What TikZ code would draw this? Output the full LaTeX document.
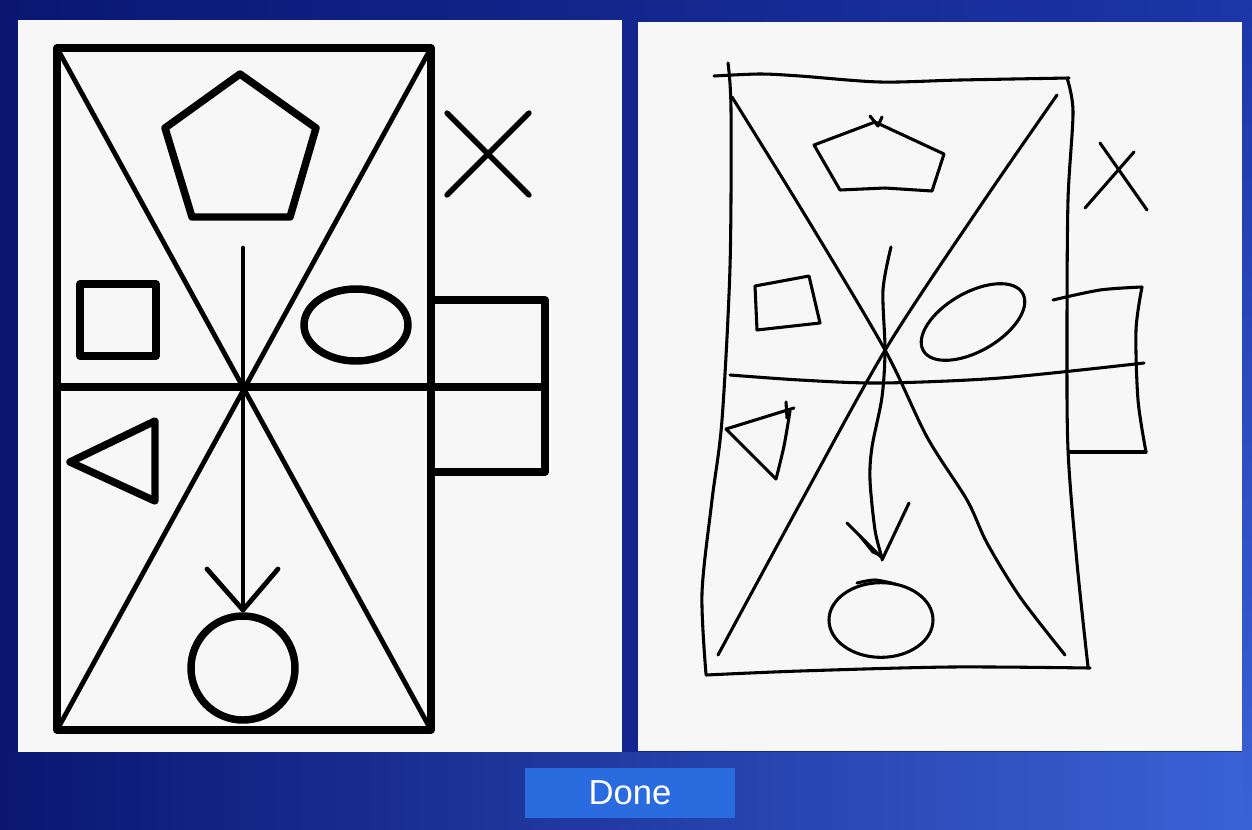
\documentclass[tikz,border=0pt]{standalone}
\usepackage{fontspec}
\setmainfont{Liberation Sans}
\definecolor{navyA}{HTML}{0A1672}
\definecolor{navyB}{HTML}{1C36A8}
\definecolor{navyC}{HTML}{3A62D6}
\definecolor{btnblue}{HTML}{2A6BE0}
\definecolor{paper}{HTML}{F7F7F7}
\begin{document}
\begin{tikzpicture}[x=0.75pt,y=-0.75pt,
  bold/.style={line width=5.6pt, line join=round, line cap=round},
  mid/.style={line width=3.6pt, line cap=round, line join=round},
  pen/.style={line width=2.3pt, line cap=round, line join=round},
  donebtn/.style={fill=btnblue, text=white, minimum width=158pt, minimum height=37pt, inner sep=0pt, font=\fontsize{26}{30}\selectfont}]
\useasboundingbox (0,0) rectangle (1252,829);
% background
\shade[left color=navyA, right color=navyB] (0,0) rectangle (1252,829);
\shade[left color=navyA, right color=navyC] (0,752) rectangle (1252,829);
\shade[top color=navyB, bottom color=navyC] (1242,0) rectangle (1252,829);
% panels
\fill[paper] (18,20) rectangle (622,752);
\fill[paper] (638,22) rectangle (1242,751);
% ===== left: original figure =====
\draw[bold] (57,48) rectangle (431,730);
\draw[mid] (57,48) -- (431,730);
\draw[mid] (431,48) -- (57,730);
\draw[bold] (57,387) -- (545,387);
\draw[bold] (431,300) -- (545,300) -- (545,472) -- (431,472);
\draw[bold] (240,74) -- (316,128) -- (290,217) -- (192,217) -- (165,128) -- cycle;
\draw[bold] (80,284) rectangle (156,356);
\draw[bold] (356,325) ellipse [x radius=39pt, y radius=27pt];
\draw[bold] (70,462) -- (155,421) -- (155,501) -- cycle;
\draw[mid] (243,248) -- (243,610);
\draw[mid] (207,569) -- (243,610) -- (278,569);
\draw[bold] (243,668) circle [radius=39pt];
\draw[line width=4pt, line cap=round] (447,113) -- (529,195) (447,195) -- (529,113);
% ===== right: hand-drawn copy =====
\draw[pen] plot[smooth] coordinates {(714,76) (760,74) (800,76) (880,82) (960,80) (1069,78)};
\draw[pen] plot[smooth] coordinates {(728,63) (731,110) (730,267) (722,420) (712,500) (702,593) (706,674)};
\draw[pen] plot[smooth] coordinates {(706,675) (800,671) (950,667) (1090,668)};
\draw[pen] plot[smooth] coordinates {(1067,78) (1073,112) (1068,200) (1067,330) (1068,450) (1077,563) (1088,667)};
\draw[pen] plot[smooth] coordinates {(732,97) (808,220) (885,350) (927,437) (967,500) (987,543) (1020,597) (1065,655)};
\draw[pen] plot[smooth] coordinates {(1057,95) (981,205) (887,347) (802,500) (718,655)};
\draw[pen] plot[smooth] coordinates {(730,375) (800,380) (881,383) (1000,378) (1144,363)};
\draw[pen] plot[smooth] coordinates {(1053,300) (1100,290) (1142,287)};
\draw[pen] plot[smooth] coordinates {(1142,287) (1136,330) (1138,400) (1146,452)};
\draw[pen] (1146,452) -- (1069,452);
\draw[pen] plot[smooth] coordinates {(891,247) (883,290) (885,350) (882,397) (872,447) (870,480) (875,530) (882,558)};
\draw[pen] plot[smooth] coordinates {(847,523) (866,542) (882,558)};
\draw[pen] (909,503) -- (882,560);
\draw[pen] (860,536) -- (873,552) -- (882,556);
\draw[pen] (875,122) -- (944,154) -- (932,191) -- (885,188) -- (840,190) -- (814,145) -- cycle;
\draw[pen] (870,116) -- (878,126) -- (882,117);
\draw[pen] (755,286) -- (809,276) -- (820,323) -- (757,330) -- cycle;
\draw[pen, rotate around={30:(973,322)}] (973,322) ellipse [x radius=43pt, y radius=22pt];
\draw[pen] (881,620) ellipse [x radius=39pt, y radius=28pt];
\draw[pen] plot[smooth] coordinates {(857,583) (875,580) (895,584)};
\draw[pen] (726,429) -- (794,408);
\draw[pen] plot[smooth] coordinates {(790,411) (784,446) (776,479)};
\draw[pen] (776,479) -- (726,429);
\draw[pen] (786,402) -- (787,418);
\draw[pen] (1100,143) -- (1147,210);
\draw[pen] (1134,152) -- (1085,208);
% ===== button =====
\node[donebtn] (done) at (630,793) {Done};
\end{tikzpicture}
\end{document}
